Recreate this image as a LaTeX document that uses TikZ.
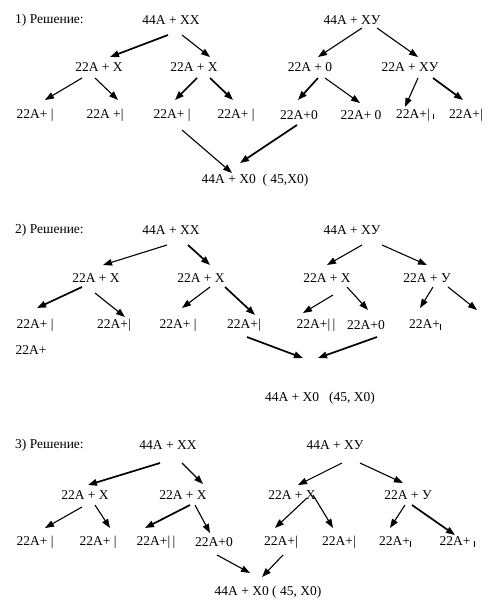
\documentclass[tikz,border=0pt]{standalone}
\usepackage{fontspec}
\setmainfont{Liberation Serif}
\usepackage{tikz}
\usetikzlibrary{arrows.meta}

% short bar for the Y chromosome
\newcommand{\ychr}{\rule[-1pt]{0.7pt}{5.5pt}}

\begin{document}
\begin{tikzpicture}[
                x=1pt, y=-1pt,
                font=\fontsize{13.5}{16}\selectfont,
                lbl/.style={inner sep=0pt},
                title/.style={inner sep=0pt, anchor=west},
                arrow/.style={-{Triangle[length=9pt, width=6.5pt]}, line width=1.1pt},
                arrowb/.style={arrow, line width=1.7pt}
            ]
                \useasboundingbox (0,0) rectangle (495,608);

                % 1) first solution
                \node[title] (r1) at (15,20) {1) Решение:};
                \node[lbl] (xx1) at (171,20) {44A + XX};
                \node[lbl] (xy1) at (352,20) {44A + XУ};
                \node[lbl] (a11) at (99,67) {22A + X};
                \node[lbl] (a12) at (194,67) {22A + X};
                \node[lbl] (a13) at (310,67) {22A + 0};
                \node[lbl] (a14) at (410,67) {22A + XУ};
                \node[lbl] (b11) at (35,115) {22A+ |};
                \node[lbl] (b12) at (105,115) {22A +|};
                \node[lbl] (b13) at (172,115) {22A+ |};
                \node[lbl] (b14) at (236,115) {22A+ |};
                \node[lbl] (b15) at (299,115) {22A+0};
                \node[lbl] (b16) at (361,115) {22A+ 0};
                \node[lbl] (b17) at (415,115) {22A+| \ychr};
                \node[lbl] (b18) at (466,115) {22A+|};
                \node[lbl] (res1) at (255,180) {44A + X0\ \ ( 45,X0)};

                \draw[arrowb] ([shift={(-3,15)}]xx1.center) -- ([shift={(11,-10)}]a11.center);
                \draw[arrow] ([shift={(11,15)}]xx1.center) -- ([shift={(16,-10)}]a12.center);
                \draw[arrow] ([shift={(-17,11)}]a11.center) -- ([shift={(10,-15)}]b11.center);
                \draw[arrow] ([shift={(-4,11)}]a11.center) -- ([shift={(13,-15)}]b12.center);
                \draw[arrowb] ([shift={(3,11)}]a12.center) -- ([shift={(3,-15)}]b13.center);
                \draw[arrowb] ([shift={(16,11)}]a12.center) -- ([shift={(-3,-15)}]b14.center);
                \draw[arrow] ([shift={(10,15)}]b13.center) -- ([shift={(-23,-7)}]res1.center);
                \draw[arrowb] ([shift={(-2,10)}]b15.center) -- ([shift={(-15,-17)}]res1.center);
                \draw[arrow] ([shift={(10,8)}]xy1.center) -- ([shift={(8,-10)}]a13.center);
                \draw[arrow] ([shift={(25,8)}]xy1.center) -- ([shift={(8,-10)}]a14.center);
                \draw[arrowb] ([shift={(8,11)}]a13.center) -- ([shift={(-1,-15)}]b15.center);
                \draw[arrow] ([shift={(15,11)}]a13.center) -- ([shift={(-1,-12)}]b16.center);
                \draw[arrow] ([shift={(8,11)}]a14.center) -- ([shift={(-10,-8)}]b17.center);
                \draw[arrowb] ([shift={(23,11)}]a14.center) -- ([shift={(-3,-15)}]b18.center);

                % 2) second solution
                \node[title] (r2) at (15,230) {2) Решение:};
                \node[lbl] (xx2) at (171,230) {44A + XX};
                \node[lbl] (xy2) at (352,230) {44A + XУ};
                \node[lbl] (a21) at (96,278) {22A + X};
                \node[lbl] (a22) at (201,278) {22A + X};
                \node[lbl] (a23) at (327,278) {22A + X};
                \node[lbl] (a24) at (427,278) {22A + У};
                \node[lbl] (b21) at (35,325) {22A+ |};
                \node[lbl] (b22) at (114,325) {22A+|};
                \node[lbl] (b23) at (178,325) {22A+ |};
                \node[lbl] (b24) at (244,325) {22A+|};
                \node[lbl] (b25) at (316,325) {22A+|\,|};
                \node[lbl] (b26) at (366,325) {22A+0};
                \node[lbl] (b27) at (425,325) {22A+\ychr};
                \coordinate (e28) at (477,310);
                \node[lbl] (c21) at (31,350) {22A+};
                \node[lbl] (res2) at (320,398) {44A + X0\ \ \ (45, X0)};

                \draw[arrow] ([shift={(-4,15)}]xx2.center) -- ([shift={(7,-13)}]a21.center);
                \draw[arrowb] ([shift={(17,15)}]xx2.center) -- ([shift={(9,-13)}]a22.center);
                \draw[arrowb] ([shift={(-14,9)}]a21.center) -- ([shift={(2,-17)}]b21.center);
                \draw[arrow] ([shift={(-1,15)}]a21.center) -- ([shift={(11,-8)}]b22.center);
                \draw[arrow] ([shift={(9,9)}]a22.center) -- ([shift={(4,-17)}]b23.center);
                \draw[arrowb] ([shift={(24,9)}]a22.center) -- ([shift={(11,-10)}]b24.center);
                \draw[arrowb] ([shift={(3,12)}]b24.center) -- ([shift={(-17,-40)}]res2.center);
                \draw[arrowb] ([shift={(11,12)}]b26.center) -- ([shift={(-2,-40)}]res2.center);
                \draw[arrow] ([shift={(10,15)}]xy2.center) -- ([shift={(0,-13)}]a23.center);
                \draw[arrow] ([shift={(30,15)}]xy2.center) -- ([shift={(0,-13)}]a24.center);
                \draw[arrow] ([shift={(6,17)}]a23.center) -- ([shift={(-13,-12)}]b25.center);
                \draw[arrow] ([shift={(20,9)}]a23.center) -- ([shift={(2,-15)}]b26.center);
                \draw[arrow] ([shift={(6,9)}]a24.center) -- ([shift={(-5,-17)}]b27.center);
                \draw[arrow] ([shift={(21,9)}]a24.center) -- (e28);

                % 3) third solution
                \node[title] (r3) at (15,445) {3) Решение:};
                \node[lbl] (xx3) at (168,445) {44A + XX};
                \node[lbl] (xy3) at (335,445) {44A + XУ};
                \node[lbl] (a31) at (85,495) {22A + X};
                \node[lbl] (a32) at (183,495) {22A + X};
                \node[lbl] (a33) at (292,495) {22A + X};
                \node[lbl] (a34) at (408,495) {22A + У};
                \node[lbl] (b31) at (35,542) {22A+ |};
                \node[lbl] (b32) at (98,542) {22A+ |};
                \node[lbl] (b33) at (156,542) {22A+|\,|};
                \node[lbl] (b34) at (214,542) {22A+0};
                \node[lbl] (b35) at (281,542) {22A+|};
                \node[lbl] (b36) at (339,542) {22A+|};
                \node[lbl] (b37) at (395,542) {22A+\ychr};
                \node[lbl] (b38) at (457,542) {22A+ \ychr};
                \node[lbl] (res3) at (268,592) {44A + X0 ( 45, X0)};

                \draw[arrowb] ([shift={(-8,18)}]xx3.center) -- ([shift={(3,-10)}]a31.center);
                \draw[arrow] ([shift={(14,18)}]xx3.center) -- ([shift={(20,-11)}]a32.center);
                \draw[arrow] ([shift={(-3,12)}]a31.center) -- ([shift={(10,-14)}]b31.center);
                \draw[arrow] ([shift={(10,10)}]a31.center) -- ([shift={(12,-14)}]b32.center);
                \draw[arrowb] ([shift={(7,10)}]a32.center) -- ([shift={(-11,-14)}]b33.center);
                \draw[arrow] ([shift={(12,10)}]a32.center) -- ([shift={(-4,-9)}]b34.center);
                \draw[arrow] ([shift={(3,13)}]b34.center) -- ([shift={(-18,-19)}]res3.center);
                \draw[arrow] ([shift={(7,18)}]xy3.center) -- ([shift={(6,-10)}]a33.center);
                \draw[arrow] ([shift={(25,18)}]xy3.center) -- ([shift={(-5,-12)}]a34.center);
                \draw[arrow] ([shift={(15,3)}]a33.center) -- ([shift={(-6,-14)}]b35.center);
                \draw[arrow] ([shift={(21,0)}]a33.center) -- ([shift={(-6,-14)}]b36.center);
                \draw[arrow] ([shift={(-3,10)}]a34.center) -- ([shift={(-5,-14)}]b37.center);
                \draw[arrowb] ([shift={(4,10)}]a34.center) -- ([shift={(-2,-7)}]b38.center);
                \draw[arrow] ([shift={(2,13)}]b35.center) -- ([shift={(-6,-15)}]res3.center);
            \end{tikzpicture}
\end{document}
